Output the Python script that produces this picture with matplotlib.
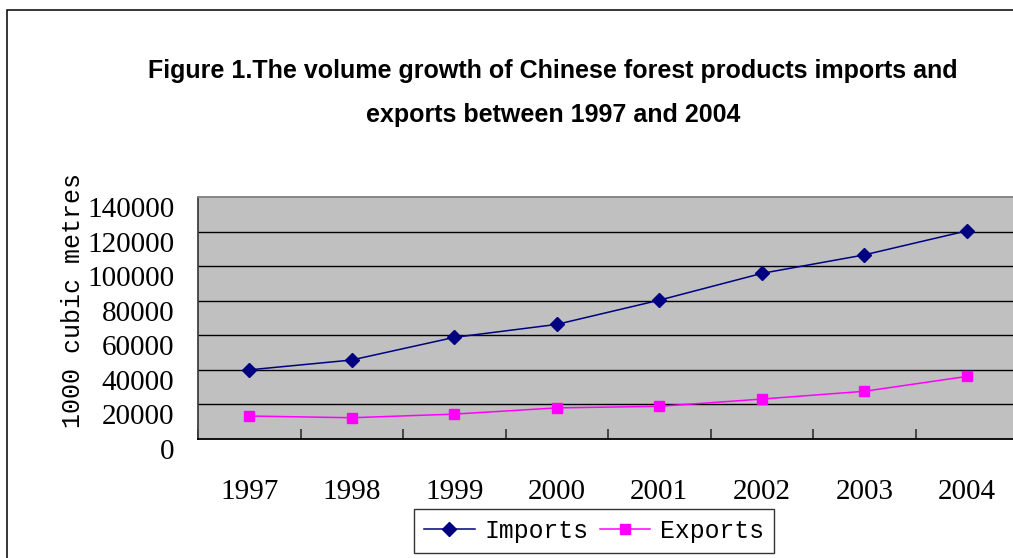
import matplotlib
matplotlib.use("Agg")
import matplotlib.pyplot as plt
import matplotlib.transforms as mtransforms
from matplotlib.patches import Rectangle
import numpy as np

# 进出口数据 (千立方米)
years = ['1997', '1998', '1999', '2000', '2001', '2002', '2003', '2004']
imports = [40000, 45700, 58800, 66300, 80300, 95800, 106500, 120400]
exports = [13300, 12300, 14400, 18000, 18900, 23100, 27600, 36200]
yticks = [0, 20000, 40000, 60000, 80000, 100000, 120000, 140000]

W, H = 1013, 558
fig = plt.figure(figsize=(W / 100, H / 100), dpi=100)

# 外框
fig.patches.append(Rectangle((7 / W, -0.1), 1.2, 1 - 10 / H + 0.1, transform=fig.transFigure,
                             fill=False, edgecolor='black', linewidth=1.1, zorder=0))

ax = fig.add_axes([198 / W, 1 - 439 / H, 820 / W, 242 / H])
ax.set_facecolor('#C0C0C0')

x = np.arange(len(years))
ax.plot(x, imports, color='#000080', linewidth=1.1, marker='D', markersize=7,
        label='Imports', zorder=3)
ax.plot(x, exports, color='#FF00FF', linewidth=1.1, marker='s', markersize=7.5,
        label='Exports', zorder=3)

ax.set_xlim(-0.5, len(years) - 0.5)
ax.set_ylim(0, 140000)

# 网格线
for v in yticks[1:-1]:
    ax.axhline(v, color='black', linewidth=1.0, zorder=1)

ax.spines['top'].set_color('#808080')
ax.spines['right'].set_visible(False)
ax.spines['left'].set_color('#404040')
ax.spines['bottom'].set_color('black')
for s in ax.spines.values():
    s.set_linewidth(1.3)

ax.set_xticks(x)
ax.set_xticklabels(years, fontfamily='Liberation Serif', fontsize=21)
ax.set_xticks(np.arange(len(years) + 1) - 0.5, minor=True)
ax.tick_params(axis='x', which='major', length=0, pad=29)
ax.tick_params(axis='x', which='minor', direction='in', length=7, width=1.2, color='#303030')

ax.set_yticks(yticks)
ax.set_yticklabels([str(v) for v in yticks], fontfamily='Liberation Serif', fontsize=21)
ax.tick_params(axis='y', length=0, pad=17)
shift = mtransforms.ScaledTranslation(0, -0.1, fig.dpi_scale_trans)
for lab in ax.get_yticklabels():
    lab.set_transform(lab.get_transform() + shift)

fig.text(73 / W, 1 - 300 / H, '1000 cubic metres', rotation=90, ha='center', va='center',
         fontfamily='Liberation Mono', fontsize=18)

fig.text(553 / W, 1 - 71 / H, 'Figure 1.The volume growth of Chinese forest products imports and',
         ha='center', va='center', fontfamily='Liberation Sans', fontweight='bold', fontsize=18)
fig.text(553 / W, 1 - 115 / H, 'exports between 1997 and 2004',
         ha='center', va='center', fontfamily='Liberation Sans', fontweight='bold', fontsize=18)

leg = fig.legend(loc='upper left', bbox_to_anchor=(414 / W, 1 - 509 / H), ncol=2,
                 prop={'family': 'Liberation Mono', 'size': 17.8}, frameon=True, fancybox=False,
                 borderaxespad=0, borderpad=0.4, handlelength=2.05, handletextpad=0.4,
                 columnspacing=0.45)
leg.get_frame().set_edgecolor('black')
leg.get_frame().set_linewidth(1.0)

fig.savefig('out.png', dpi=100)
